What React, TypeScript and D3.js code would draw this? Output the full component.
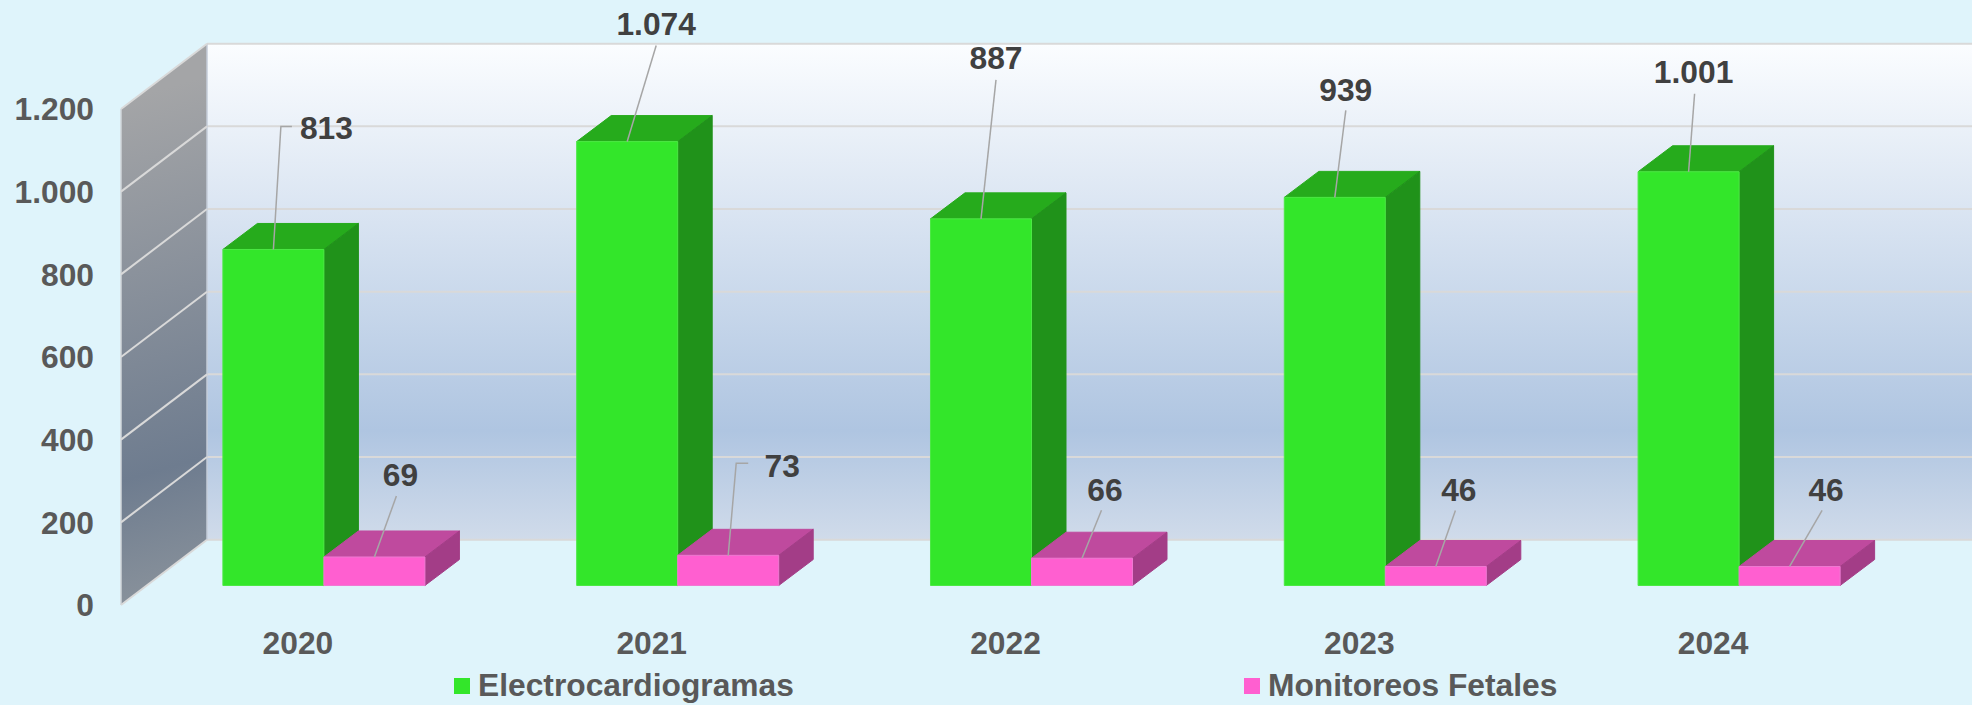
import React from "react";
import * as d3 from "d3";

const years = ["2020", "2021", "2022", "2023", "2024"];
const electro = [813, 1074, 887, 939, 1001];
const fetal = [69, 73, 66, 46, 46];
const yTicks = [0, 200, 400, 600, 800, 1000, 1200];
const seriesNames = ["Electrocardiogramas", "Monitoreos Fetales"];

// label placement relative to the top centre of each bar: [line dx, line dy, label dx, label dy, elbow tail]
const electroLabels = [
  [7.5, -123, 53, -122, 11],
  [29, -96, 29, -118, 0],
  [15, -139, 15, -161, 0],
  [11, -87, 11, -108, 0],
  [6, -78, 5, -100, 0],
];
const fetalLabels = [
  [22, -61, 26, -82.5, 0],
  [8, -92, 54, -90, 12],
  [19.5, -48, 23, -69, 0],
  [19.6, -56, 23, -77, 0],
  [32.5, -56, 36.5, -77, 0],
];

const width = 1972;
const height = 705;
const font = "'Liberation Sans', Arial, sans-serif";
const fontSize = 31.75;

// the 3d box
const wallX = 121;
const floorDx = 86;
const floorDy = 65.3;
const barShift = 19.5;
const barDx = 34.5;
const barDy = 26;

const y = d3.scaleLinear().domain([0, 1200]).range([605, 109]);
const x0 = d3.scaleBand().domain(years).range([147, 1916]).paddingInner(0.429).paddingOuter(0.2145);
const x1 = d3.scaleBand().domain(seriesNames).range([0, x0.bandwidth()]);
const fmt = d3.formatLocale({ decimal: ",", thousands: ".", grouping: [3], currency: ["", ""] }).format(",");

const pts = (p: number[][]) => p.map((d) => d.join(",")).join(" ");

type Colors = { front: string; top: string; side: string; line: string };
const green: Colors = { front: "#33e62a", top: "#26ab1c", side: "#20921a", line: "#4ce844" };
const pink: Colors = { front: "#ff5fd0", top: "#bf4a9e", side: "#a33d87", line: "#ef79d2" };

const Bar = ({ left, w, value, c }: { left: number; w: number; value: number; c: Colors }) => {
  const top = y(value) - barShift;
  const base = y(0) - barShift;
  const right = left + w;
  return (
    <g stroke={c.line} strokeWidth={1} strokeLinejoin="round">
      <polygon points={pts([[left, top], [left + barDx, top - barDy], [right + barDx, top - barDy], [right, top]])} fill={c.top} stroke={c.top} />
      <polygon points={pts([[right, top], [right + barDx, top - barDy], [right + barDx, base - barDy], [right, base]])} fill={c.side} stroke={c.side} />
      <rect x={left} y={top} width={w} height={base - top} fill={c.front} />
    </g>
  );
};

const Leader = ({ cx, value, place }: { cx: number; value: number; place: number[] }) => {
  const ax = cx;
  const ay = y(value) - barShift;
  const [dx, dy, lx, ly, tail] = place;
  const line = d3.line()([
    [ax, ay],
    [ax + dx, ay + dy],
    ...(tail ? [[ax + dx + tail, ay + dy] as [number, number]] : []),
  ]);
  return (
    <g>
      <path d={line || ""} fill="none" stroke="#a6a6a6" strokeWidth={1.5} />
      <text x={ax + lx} y={ay + ly} dy="0.36em" textAnchor="middle" fontFamily={font} fontWeight="bold" fontSize={fontSize} fill="#404040">
        {fmt(value)}
      </text>
    </g>
  );
};

export default function App() {
  const backX = wallX + floorDx;
  const legendX = [454, 1244];
  const barW = x1.bandwidth();

  return (
    <svg width={width} height={height} style={{ position: "absolute", left: 0, top: 0, display: "block" }}>
      <defs>
        <linearGradient id="wall" x1="0" y1="0" x2="0" y2="1">
          <stop offset="0" stopColor="#fbfdff" />
          <stop offset="0.78" stopColor="#afc5e1" />
          <stop offset="1" stopColor="#d0dbea" />
        </linearGradient>
        <linearGradient id="side" gradientUnits="userSpaceOnUse" x1={wallX} y1={100} x2={260} y2={590}>
          <stop offset="0" stopColor="#a4a5a7" />
          <stop offset="0.72" stopColor="#6e7c8f" />
          <stop offset="1" stopColor="#8d959d" />
        </linearGradient>
      </defs>

      <rect width={width} height={height} fill="#dff4fb" />

      {/* back wall */}
      <rect x={backX} y={y(1200) - floorDy} width={width - backX} height={y(0) - y(1200)} fill="url(#wall)" />
      {yTicks.map((t) => (
        <line key={t} x1={backX} x2={width} y1={y(t) - floorDy} y2={y(t) - floorDy} stroke="#d9d9d9" strokeWidth={2} />
      ))}

      {/* side wall */}
      <polygon
        points={pts([[wallX, y(1200)], [backX, y(1200) - floorDy], [backX, y(0) - floorDy], [wallX, y(0)]])}
        fill="url(#side)"
      />
      <line x1={wallX} x2={wallX} y1={y(1200)} y2={y(0)} stroke="#d0d6da" strokeWidth={1.5} />
      <line x1={backX} x2={backX} y1={y(1200) - floorDy} y2={y(0) - floorDy} stroke="#c4cdd9" strokeWidth={1.5} />
      {yTicks.map((t) => (
        <line key={t} x1={wallX} x2={backX} y1={y(t)} y2={y(t) - floorDy} stroke="#d9d9d9" strokeWidth={2} />
      ))}

      {/* axis labels */}
      {yTicks.map((t) => (
        <text key={t} x={94} y={y(t)} dy="0.36em" textAnchor="end" fontFamily={font} fontWeight="bold" fontSize={fontSize} fill="#595959">
          {fmt(t)}
        </text>
      ))}
      {years.map((yr) => (
        <text key={yr} x={(x0(yr) as number) + x0.bandwidth() / 2 - 26} y={643} dy="0.36em" textAnchor="middle" fontFamily={font} fontWeight="bold" fontSize={fontSize} fill="#595959">
          {yr}
        </text>
      ))}

      {/* bars */}
      {years.map((yr, i) => (
        <g key={yr}>
          <Bar left={(x0(yr) as number) + (x1(seriesNames[0]) as number)} w={barW} value={electro[i]} c={green} />
          <Bar left={(x0(yr) as number) + (x1(seriesNames[1]) as number)} w={barW} value={fetal[i]} c={pink} />
        </g>
      ))}

      {/* data labels */}
      {years.map((yr, i) => (
        <g key={yr}>
          <Leader cx={(x0(yr) as number) + (x1(seriesNames[0]) as number) + barW / 2} value={electro[i]} place={electroLabels[i]} />
          <Leader cx={(x0(yr) as number) + (x1(seriesNames[1]) as number) + barW / 2} value={fetal[i]} place={fetalLabels[i]} />
        </g>
      ))}

      {/* legend */}
      {seriesNames.map((s, i) => (
        <g key={s}>
          <rect x={legendX[i]} y={678} width={16} height={16} fill={i === 0 ? green.front : pink.front} />
          <text x={legendX[i] + 24} y={696} fontFamily={font} fontWeight="bold" fontSize={fontSize} fill="#595959">
            {s}
          </text>
        </g>
      ))}
    </svg>
  );
}
